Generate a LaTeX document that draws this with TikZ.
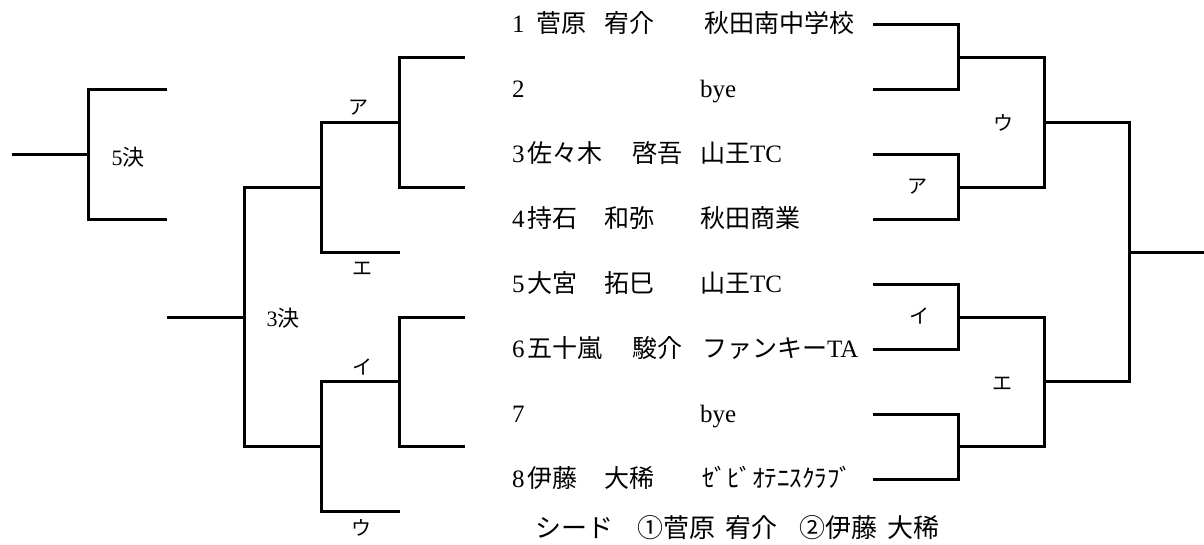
\documentclass[tikz,border=0pt]{standalone}
\usepackage{fontspec}
\setmainfont{Liberation Serif}
\newfontfamily\jp{Noto Sans CJK JP}
\begin{document}
\begin{tikzpicture}[x=1pt,y=-1pt,
  br/.style={line width=3pt, line join=miter},
  txt/.style={anchor=base west, inner sep=0pt, font=\fontsize{25}{28}\selectfont},
  lbl/.style={inner sep=0pt, font=\jp\fontsize{20}{22}\selectfont},
  kess/.style={inner sep=0pt, font=\fontsize{22}{24}\selectfont},
  seed/.style={anchor=base west, inner sep=0pt, font=\jp\fontsize{26}{28}\selectfont}]
\useasboundingbox (0,0) rectangle (1204,545);
% row end points (right side)
\coordinate (r1) at (873,25);
\coordinate (r2) at (873,89.9);
\coordinate (r3) at (873,154.8);
\coordinate (r4) at (873,219.7);
\coordinate (r5) at (873,284.6);
\coordinate (r6) at (873,349.5);
\coordinate (r7) at (873,414.4);
\coordinate (r8) at (873,479.3);
\coordinate (m1) at (958,57.45);
\coordinate (m2) at (958,187.25);
\coordinate (m3) at (958,317.05);
\coordinate (m4) at (958,446.85);
\coordinate (k1) at (1044,122.35);
\coordinate (k2) at (1044,381.95);
\coordinate (fin) at (1129,252.15);
\coordinate (fend) at (1204,252.15);
% right bracket
\draw[br] (r1) -| (m1) |- (r2);
\draw[br] (r3) -| (m2) |- (r4);
\draw[br] (r5) -| (m3) |- (r6);
\draw[br] (r7) -| (m4) |- (r8);
\draw[br] (m1) -| (k1) |- (m2);
\draw[br] (m3) -| (k2) |- (m4);
\draw[br] (k1) -| (fin) |- (k2);
\draw[br] (fin) -- (fend);
% left consolation bracket
\coordinate (L1) at (465,57.45);
\coordinate (L2) at (465,187.25);
\coordinate (L3) at (465,317.05);
\coordinate (L4) at (465,446.85);
\coordinate (q1) at (399,122.35);
\coordinate (q2) at (399,381.95);
\coordinate (s1) at (321,187.25);
\coordinate (s2) at (321,446.85);
\coordinate (t1) at (400,252.15);
\coordinate (t2) at (400,511.75);
\coordinate (u) at (244,317.05);
\coordinate (w) at (167,317.05);
\draw[br] (L1) -| (q1) |- (L2);
\draw[br] (L3) -| (q2) |- (L4);
\draw[br] (q1) -| (s1) |- (t1);
\draw[br] (q2) -| (s2) |- (t2);
\draw[br] (s1) -| (u) |- (s2);
\draw[br] (u) -- (w);
% 5th place bracket
\coordinate (a1) at (167,89.9);
\coordinate (a2) at (167,219.7);
\coordinate (v) at (88,154.8);
\coordinate (z) at (12,154.8);
\draw[br] (a1) -| (v) |- (a2);
\draw[br] (v) -- (z);
% labels
\node[lbl] (rA) at (917,187) {ア};
\node[lbl] (rI) at (919,316) {イ};
\node[lbl] (rU) at (1003,123) {ウ};
\node[lbl] (rE) at (1002,384) {エ};
\node[lbl] (lA) at (358,108) {ア};
\node[lbl] (lE) at (362,269) {エ};
\node[lbl] (lI) at (362,367) {イ};
\node[lbl] (lU) at (361,528) {ウ};
\node[kess] (k5) at (128,157) {5{\jp 決}};
\node[kess] (k3) at (283,318) {3{\jp 決}};
% entries
\node[txt] (e1n) at (512,33) {1};
\node[txt] (e1a) at (536,33) {\jp 菅原};
\node[txt] (e1b) at (604,33) {\jp 宥介};
\node[txt] (e1c) at (704,33) {\jp 秋田南中学校};
\node[txt] (e2n) at (512,97.9) {2};
\node[txt] (e2c) at (700,97.9) {bye};
\node[txt] (e3n) at (512,162.8) {3};
\node[txt] (e3a) at (527,162.8) {\jp 佐々木};
\node[txt] (e3b) at (632,162.8) {\jp 啓吾};
\node[txt] (e3c) at (700,162.8) {{\jp 山王}TC};
\node[txt] (e4n) at (512,227.7) {4};
\node[txt] (e4a) at (527,227.7) {\jp 持石};
\node[txt] (e4b) at (604,227.7) {\jp 和弥};
\node[txt] (e4c) at (700,227.7) {\jp 秋田商業};
\node[txt] (e5n) at (512,292.6) {5};
\node[txt] (e5a) at (527,292.6) {\jp 大宮};
\node[txt] (e5b) at (604,292.6) {\jp 拓巳};
\node[txt] (e5c) at (700,292.6) {{\jp 山王}TC};
\node[txt] (e6n) at (512,357.5) {6};
\node[txt] (e6a) at (527,357.5) {\jp 五十嵐};
\node[txt] (e6b) at (632,357.5) {\jp 駿介};
\node[txt] (e6c) at (702,357.5) {{\jp ファンキー}TA};
\node[txt] (e7n) at (512,422.4) {7};
\node[txt] (e7c) at (700,422.4) {bye};
\node[txt] (e8n) at (512,487.3) {8};
\node[txt] (e8a) at (527,487.3) {\jp 伊藤};
\node[txt] (e8b) at (604,487.3) {\jp 大稀};
\node[txt] (e8c) at (702,487.3) {\jp ｾﾞﾋﾞｵﾃﾆｽｸﾗﾌﾞ};
\node[seed] (seedline) at (535,537) {シード\hspace{24pt}①菅原\hspace{10pt}宥介\hspace{22pt}②伊藤\hspace{10pt}大稀};
\end{tikzpicture}
\end{document}
